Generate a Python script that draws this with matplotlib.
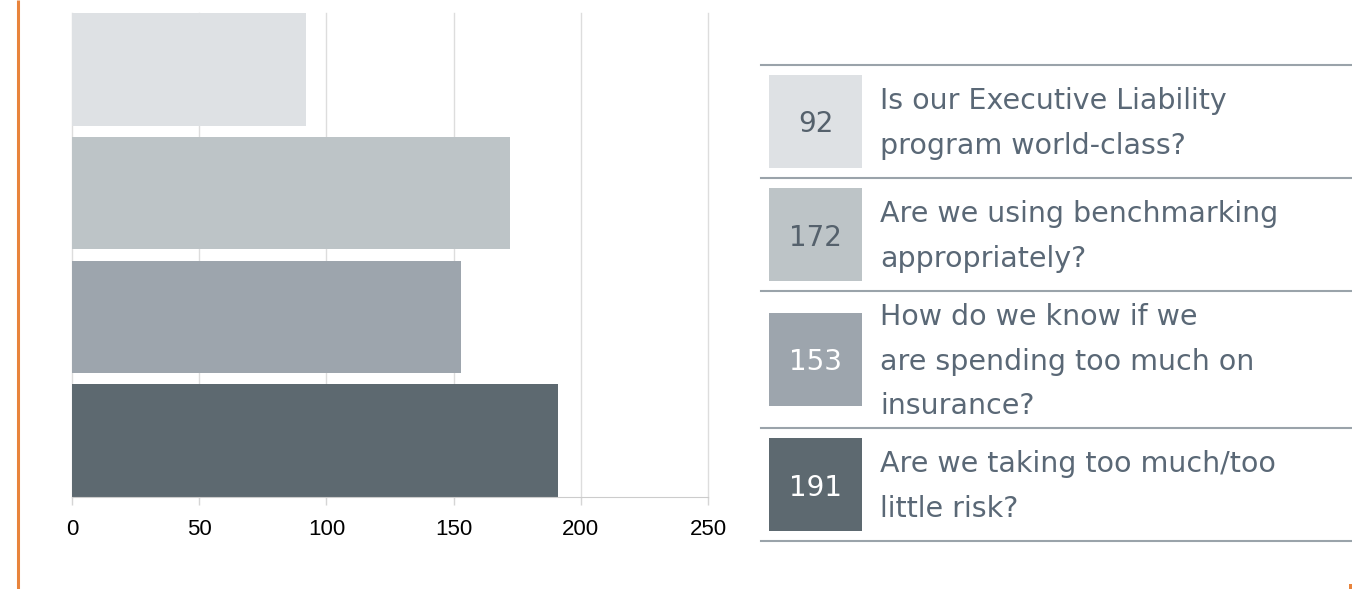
import matplotlib.pyplot as plt
from matplotlib.patches import Rectangle

values = [92, 172, 153, 191]
questions = [
    "Is our Executive Liability\nprogram world-class?",
    "Are we using benchmarking\nappropriately?",
    "How do we know if we\nare spending too much on\ninsurance?",
    "Are we taking too much/too\nlittle risk?",
]
colors = ["#DEE1E4", "#BDC4C7", "#9DA5AD", "#5D6970"]
num_colors = ["#55616C", "#55616C", "white", "white"]
xticks = [0, 50, 100, 150, 200, 250]

W, H = 1352, 589
fig = plt.figure(figsize=(W / 100, H / 100), dpi=100)

# bar chart
ax = fig.add_axes([72 / W, 1 - 497 / H, (708 - 72) / W, (497 - 13) / H])
pos = list(range(len(values)))[::-1]
ax.barh(pos, values, height=0.91, color=colors, zorder=2)
ax.set_xlim(0, 250)
ax.set_ylim(-0.455, 3.455)
ax.set_xticks(xticks)
ax.set_xticklabels([str(t) for t in xticks], fontsize=16, family="Liberation Sans")
ax.set_yticks([])
ax.grid(axis="x", color="#DDDDDD", linewidth=1, zorder=0)
for g in ax.get_xgridlines():
    g.set_clip_on(False)
for s in ["top", "right", "left"]:
    ax.spines[s].set_visible(False)
ax.spines["bottom"].set_color("#CCCCCC")
ax.tick_params(axis="x", length=6, width=1, color="#D5D5D5", labelcolor="black", pad=10)

# overlay in pixel coords for table + decorations
ov = fig.add_axes([0, 0, 1, 1])
ov.set_xlim(0, W)
ov.set_ylim(H, 0)
ov.axis("off")
ov.patch.set_alpha(0)

ov.plot([18, 18], [0, H], color="#E8843C", lw=2.2, solid_capstyle="butt")
ov.add_patch(Rectangle((1349, 584), 3, 5, color="#E8843C", lw=0))

lines_y = [65, 178, 291, 428, 541]
for y in lines_y:
    ov.plot([761, W], [y, y], color="#9AA3AA", lw=1.5)

for i, (v, q) in enumerate(zip(values, questions)):
    top, bot = lines_y[i], lines_y[i + 1]
    cy = (top + bot) / 2
    ov.add_patch(Rectangle((769, cy - 46.5), 93, 93, color=colors[i], lw=0))
    ov.text(815.5, cy + 3, str(v), ha="center", va="center", fontsize=20,
            color=num_colors[i], family="DejaVu Sans")
    ov.text(880, cy + 2, q, ha="left", va="center", fontsize=20.5,
            color="#5A6876", family="DejaVu Sans", linespacing=1.75)

fig.savefig("out.png", dpi=100)
